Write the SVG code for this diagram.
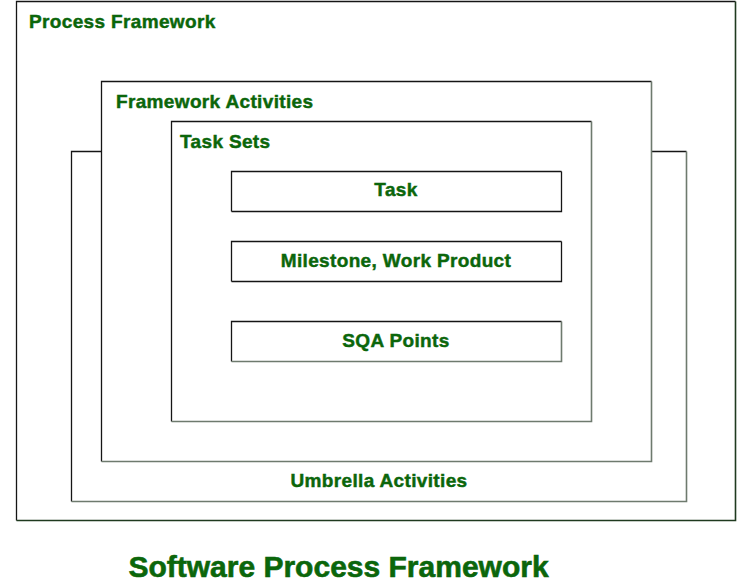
<svg xmlns="http://www.w3.org/2000/svg" width="738" height="583" viewBox="0 0 738 583">
<style>
.box{fill:#fff;stroke:none}
.tl{fill:none;stroke:#151515;stroke-width:1.3}
.br{fill:none;stroke:#6e7a6e;stroke-width:1.6}
.brd{fill:none;stroke:#1f3a1f;stroke-width:1.6}
.lbl{font-family:"Liberation Sans",Arial,sans-serif;font-weight:bold;font-size:19px;letter-spacing:0.35px;fill:#0b660b;stroke:#0b660b;stroke-width:0.45}
.mid{text-anchor:middle}
.title{font-family:"Liberation Sans",Arial,sans-serif;font-weight:bold;font-size:30px;fill:#0b660b;stroke:#0b660b;stroke-width:0.6;text-anchor:middle}
</style>
<rect width="738" height="583" fill="#fff"/>
<g id="process-framework">
<rect class="box" x="16.5" y="1.5" width="719" height="519"/>
<path class="tl" d="M16.5,520.5 V1.5 H735.5"/>
<path class="brd" d="M735.5,1.5 V520.5 H16.5"/>
<text class="lbl" x="29" y="27.5">Process Framework</text>
</g>
<g id="umbrella-activities">
<rect class="box" x="71.5" y="151.5" width="615" height="350"/>
<path class="tl" d="M71.5,501.5 V151.5 H686.5"/>
<path class="br" d="M686.5,151.5 V501.5 H71.5"/>
<text class="lbl mid" x="379" y="487">Umbrella Activities</text>
</g>
<g id="framework-activities">
<rect class="box" x="101.5" y="81.5" width="550" height="380"/>
<path class="tl" d="M101.5,461.5 V81.5 H651.5"/>
<path class="br" d="M651.5,81.5 V461.5 H101.5"/>
<text class="lbl" x="116" y="108">Framework Activities</text>
</g>
<g id="task-sets">
<rect class="box" x="171.5" y="121.5" width="420" height="300"/>
<path class="tl" d="M171.5,421.5 V121.5 H591.5"/>
<path class="br" d="M591.5,121.5 V421.5 H171.5"/>
<text class="lbl" x="180" y="147.5">Task Sets</text>
</g>
<g id="task">
<rect class="box" x="231.5" y="171.5" width="330" height="40"/>
<path class="tl" d="M231.5,211.5 V171.5 H561.5"/>
<path class="tl" d="M561.5,171.5 V211.5 H231.5"/>
<text class="lbl mid" x="396" y="196">Task</text>
</g>
<g id="milestone">
<rect class="box" x="231.5" y="241.5" width="330" height="40"/>
<path class="tl" d="M231.5,281.5 V241.5 H561.5"/>
<path class="tl" d="M561.5,241.5 V281.5 H231.5"/>
<text class="lbl mid" x="396" y="266.5">Milestone, Work Product</text>
</g>
<g id="sqa-points">
<rect class="box" x="231.5" y="321.5" width="330" height="40"/>
<path class="tl" d="M231.5,361.5 V321.5 H561.5"/>
<path class="br" d="M561.5,321.5 V361.5 H231.5"/>
<text class="lbl mid" x="396" y="346.5">SQA Points</text>
</g>
<g id="connectors"/>
<text class="title" x="338.5" y="577">Software Process Framework</text>
</svg>
